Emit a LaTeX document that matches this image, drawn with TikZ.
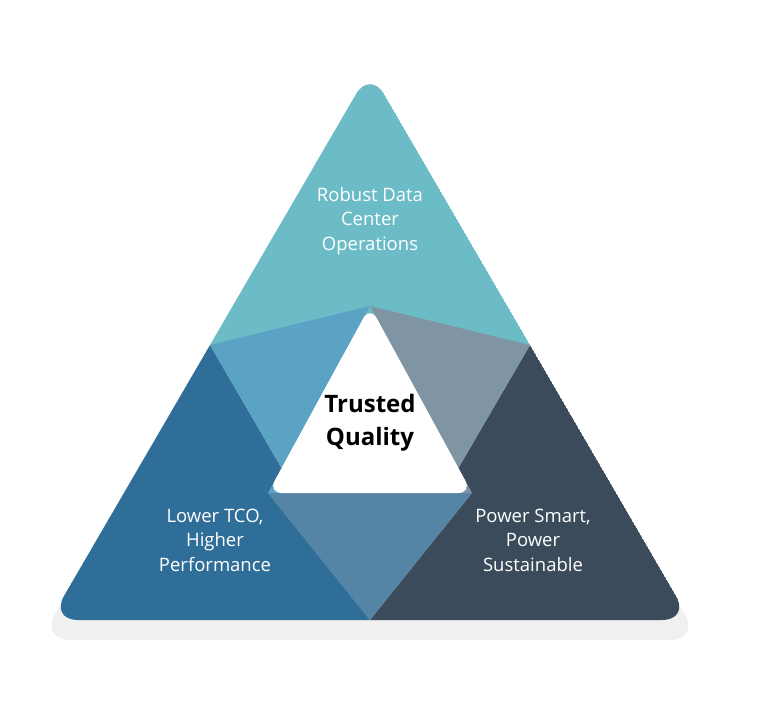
\documentclass[tikz,border=0pt]{standalone}
\usepackage{fontspec}
\setmainfont{Open Sans}
\usepackage{tikz}
\definecolor{teal}{HTML}{6CBCC7}
\definecolor{steel}{HTML}{2F6E98}
\definecolor{slate}{HTML}{3B4B5B}
\definecolor{skyblue}{HTML}{5BA3C4}
\definecolor{greyblue}{HTML}{7F95A3}
\definecolor{midblue}{HTML}{5584A5}
\usetikzlibrary{calc}

\begin{document}
\begin{tikzpicture}[x=1pt,y=-1pt]
    \tikzset{
        sidetext/.style={text=white, align=center, font=\fontsize{18.5}{24.5}\selectfont},
        centretext/.style={text=black, align=center, font=\bfseries\fontsize{24}{33}\selectfont}
    }
    \useasboundingbox (0,0) rectangle (760,714);

    % Corners
    \coordinate (apex) at (370,70);
    \coordinate (bl) at (50,620);
    \coordinate (br) at (690,620);
    \coordinate (ml) at ($(apex)!0.5!(bl)$);
    \coordinate (mr) at ($(apex)!0.5!(br)$);
    \coordinate (mb) at ($(bl)!0.5!(br)$);
    \coordinate (wt) at (370,306);
    \coordinate (wl) at (268,493);
    \coordinate (wr) at (472,493);

    % Soft shadow
    \fill[black!6, rounded corners=30] (370,78) -- (700,640) -- (40,640) -- cycle;

    % Outer parts
    \begin{scope}
        \clip[rounded corners=28] (apex) -- (br) -- (bl) -- cycle;
        \fill[teal] (apex) -- (mr) -- (ml) -- cycle;
        \fill[steel] (ml) -- (mb) -- (bl) -- cycle;
        \fill[slate] (mr) -- (br) -- (mb) -- cycle;
        \fill[skyblue] (ml) -- (wt) -- (wl) -- (mb) -- cycle;
        \fill[greyblue] (mr) -- (wt) -- (wr) -- (mb) -- cycle;
        \fill[midblue] (wl) -- (wr) -- (mb) -- cycle;
    \end{scope}

    % Centre
    \fill[white, rounded corners=14] (wt) -- (wr) -- (wl) -- cycle;

    % Labels
    \node[sidetext] (robust) at (370,221) {Robust Data\\Center\\Operations};
    \node[sidetext] (lower) at (215,540) {Lower TCO,\\Higher\\Performance};
    \node[sidetext] (power) at (533,540) {Power Smart,\\Power\\Sustainable};
    \node[centretext] (trusted) at (370,423) {Trusted\\Quality};
\end{tikzpicture}
\end{document}
